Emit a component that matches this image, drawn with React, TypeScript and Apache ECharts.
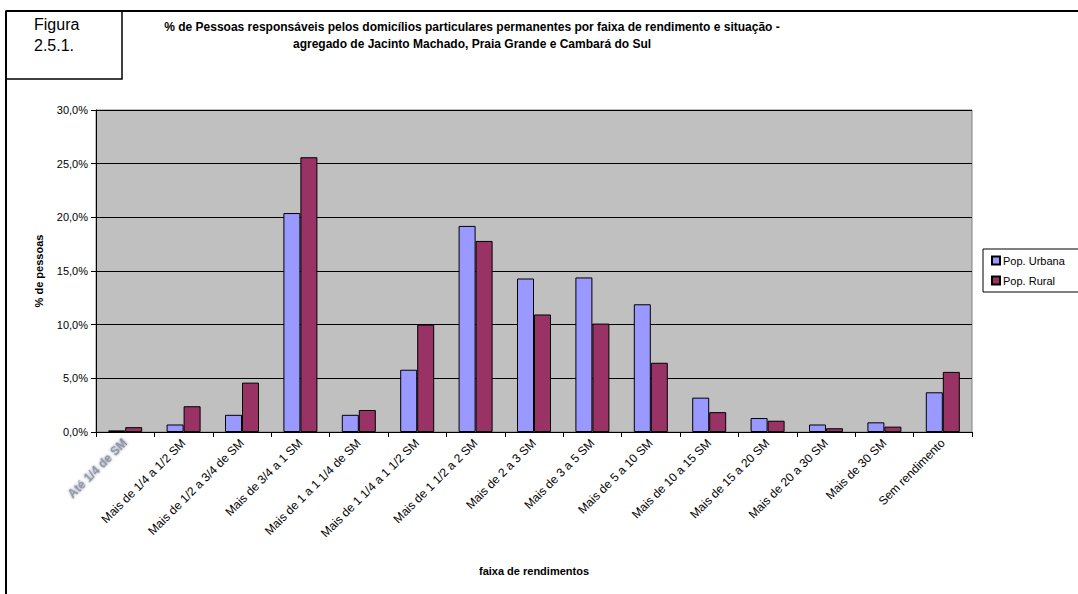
import React, { useEffect, useRef } from "react";
import * as echarts from "echarts";

const categories = [
  "Até 1/4 de SM",
  "Mais de 1/4 a 1/2 SM",
  "Mais de 1/2 a 3/4 de SM",
  "Mais de 3/4 a 1 SM",
  "Mais de 1 a 1 1/4 de SM",
  "Mais de 1 1/4 a 1 1/2 SM",
  "Mais de 1 1/2 a 2 SM",
  "Mais de 2 a 3 SM",
  "Mais de 3 a 5 SM",
  "Mais de 5 a 10 SM",
  "Mais de 10 a 15 SM",
  "Mais de 15 a 20 SM",
  "Mais de 20 a 30 SM",
  "Mais de 30 SM",
  "Sem rendimento",
];

const urbana = [0.15, 0.7, 1.6, 20.4, 1.6, 5.8, 19.2, 14.3, 14.4, 11.9, 3.2, 1.3, 0.7, 0.9, 3.7];
const rural = [0.45, 2.4, 4.6, 25.6, 2.05, 10.0, 17.8, 10.95, 10.1, 6.45, 1.85, 1.05, 0.35, 0.5, 5.6];

const seriesNames = ["Pop. Urbana", "Pop. Rural"];
const titleLines = [
  "% de Pessoas responsáveis pelos domicílios particulares permanentes por faixa de rendimento e situação -",
  "agregado de Jacinto Machado, Praia Grande e Cambará do Sul",
];

const FONT = "'Liberation Sans', Arial, sans-serif";

export default function App() {
  const ref = useRef<HTMLDivElement>(null);
  useEffect(() => {
    if (!ref.current) return;
    const chart = echarts.init(ref.current, null, { renderer: "svg" });
    chart.setOption({
      animation: false,
      backgroundColor: "#ffffff",
      textStyle: { fontFamily: FONT },
      grid: {
        left: 96,
        right: 106,
        top: 110,
        bottom: 162,
        show: true,
        backgroundColor: "#C0C0C0",
        borderColor: "#808080",
        borderWidth: 1,
      },
      legend: {
        orient: "vertical",
        left: 986,
        top: 250,
        itemWidth: 8,
        itemHeight: 8,
        itemGap: 9,
        icon: "rect",
        textStyle: { fontFamily: FONT, fontSize: 11, color: "#000", padding: [0, 0, 0, -2] },
        data: seriesNames,
      },
      xAxis: {
        type: "category",
        data: categories,
        name: "faixa de rendimentos",
        nameLocation: "middle",
        nameGap: 133,
        nameTextStyle: { fontFamily: FONT, fontSize: 11, fontWeight: "bold", color: "#000" },
        axisLine: { lineStyle: { color: "#000", width: 1 } },
        axisTick: { show: true, length: 5, lineStyle: { color: "#000" } },
        axisLabel: {
          rotate: 45,
          interval: 0,
          margin: 9,
          fontFamily: FONT,
          fontSize: 12,
          color: "#000",
          formatter: (v: string, i: number) => (i === 0 ? "{b|" + v + "}" : v),
          rich: {
            b: {
              fontFamily: FONT,
              fontSize: 12,
              fontWeight: "bold",
              color: "#8a90a2",
              textShadowColor: "#a0a6b6",
              textShadowBlur: 3,
            },
          },
        },
      },
      yAxis: {
        type: "value",
        min: 0,
        max: 30,
        interval: 5,
        name: "% de pessoas",
        nameLocation: "middle",
        nameGap: 52,
        nameTextStyle: { fontFamily: FONT, fontSize: 11, fontWeight: "bold", color: "#000" },
        axisLine: { show: true, lineStyle: { color: "#000", width: 1 } },
        axisTick: { show: true, length: 5, lineStyle: { color: "#000" } },
        axisLabel: {
          fontFamily: FONT,
          fontSize: 11,
          color: "#000",
          margin: 8,
          formatter: (v: number) => v.toFixed(1).replace(".", ",") + "%",
        },
        splitLine: { show: true, lineStyle: { color: "#000", width: 1 } },
      },
      series: [
        {
          name: seriesNames[0],
          type: "bar",
          data: urbana,
          barWidth: 17,
          barGap: "0%",
          itemStyle: { color: "#9999FF", borderColor: "#000", borderWidth: 1 },
        },
        {
          name: seriesNames[1],
          type: "bar",
          data: rural,
          barWidth: 17,
          barGap: "0%",
          itemStyle: { color: "#993366", borderColor: "#000", borderWidth: 1 },
        },
      ],
      graphic: [
        {
          type: "line",
          shape: { x1: 6, y1: 11, x2: 1080, y2: 11 },
          style: { stroke: "#000", lineWidth: 2 },
        },
        {
          type: "line",
          shape: { x1: 6, y1: 11, x2: 6, y2: 600 },
          style: { stroke: "#000", lineWidth: 2 },
        },
        {
          type: "rect",
          shape: { x: 6, y: 11, width: 116, height: 68 },
          style: { fill: "none", stroke: "#000", lineWidth: 1.5 },
        },
        {
          type: "text",
          x: 34,
          y: 14,
          style: { text: "Figura\n2.5.1.", font: "16px " + FONT, fill: "#000", lineHeight: 21 },
        },
        {
          type: "text",
          x: 472,
          y: 18,
          style: {
            text: titleLines.join("\n"),
            font: "bold 12px " + FONT,
            fill: "#000",
            align: "center",
            lineHeight: 17,
          },
        },
        {
          type: "rect",
          shape: { x: 983, y: 249, width: 110, height: 43 },
          style: { fill: "none", stroke: "#000", lineWidth: 1 },
        },
      ],
    });
    return () => chart.dispose();
  }, []);
  return (
    <div
      ref={ref}
      style={{ position: "fixed", left: 0, top: 0, width: 1078, height: 594 }}
    />
  );
}
